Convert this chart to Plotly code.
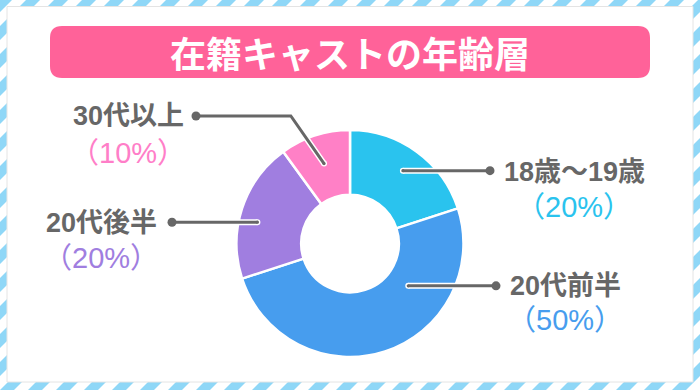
import math
import plotly.graph_objects as go

# ---- data ----
categories = ["18歳～19歳", "20代前半", "20代後半", "30代以上"]
values = [20, 50, 20, 10]
pct_labels = ["（20%）", "（50%）", "（20%）", "（10%）"]
title_text = "在籍キャストの年齢層"

# ---- style ----
W, H = 700, 390
slice_colors = ["#2ac3ee", "#479dee", "#a07ee0", "#ff80c6"]
pct_colors = ["#2ac3ee", "#479dee", "#a07ee0", "#ff7ec8"]
gray = "#676767"
stripe_color = "#8fd7f7"
title_bg = "#ff6299"
FONT = "Liberation Sans, Noto Sans CJK JP, sans-serif"

cx, cy, R = 350, 243.5, 113.5
hole = 0.43
anchor_frac = [0.5, 0.3, 0.43, 0.5]
anchor_r = [90, 72, 95, 84]
dot_x = [490, 496, 172, 196]
label_pos = [(574, 172, 207), (565, 286, 320), (101, 223, 258), (128, 116, 153)]


def px(x):
    return x / W


def py(y):
    return 1 - y / H


fig = go.Figure()

fig.add_trace(go.Pie(
    values=values, labels=categories, sort=False, direction="clockwise", rotation=0,
    hole=hole, textinfo="none", hoverinfo="label+percent",
    marker=dict(colors=slice_colors, line=dict(color="white", width=2.5)),
    domain=dict(x=[px(cx - R), px(cx + R)], y=[py(cy + R), py(cy - R)]),
    showlegend=False,
))

shapes = []
# striped frame
period, bw = 28, 14
segs = []
for k in range(-16, 28):
    x0 = k * period
    segs.append(f"M {px(x0)} {py(H)} L {px(x0 + bw)} {py(H)} L {px(x0 + bw + H)} {py(0)} L {px(x0 + H)} {py(0)} Z")
shapes.append(dict(type="path", xref="paper", yref="paper", path=" ".join(segs),
                   fillcolor=stripe_color, line=dict(width=0), layer="below"))
shapes.append(dict(type="rect", xref="paper", yref="paper", x0=px(7), x1=px(693), y0=py(382), y1=py(6.5),
                   fillcolor="white", line=dict(color="#e4e4e4", width=1), layer="below"))

# title pill
x0, x1, y0, y1, r = 50, 650, 26, 78, 12
p = (f"M {px(x0 + r)} {py(y0)} L {px(x1 - r)} {py(y0)} Q {px(x1)} {py(y0)} {px(x1)} {py(y0 + r)} "
     f"L {px(x1)} {py(y1 - r)} Q {px(x1)} {py(y1)} {px(x1 - r)} {py(y1)} "
     f"L {px(x0 + r)} {py(y1)} Q {px(x0)} {py(y1)} {px(x0)} {py(y1 - r)} "
     f"L {px(x0)} {py(y0 + r)} Q {px(x0)} {py(y0)} {px(x0 + r)} {py(y0)} Z")
shapes.append(dict(type="path", xref="paper", yref="paper", path=p, fillcolor=title_bg,
                   line=dict(width=0), layer="below"))

# leader lines
total = sum(values)
start = 0
annotations = []
for i, v in enumerate(values):
    ang = 2 * math.pi * (start + anchor_frac[i] * v) / total
    start += v
    ax = cx + anchor_r[i] * math.sin(ang)
    ay = cy - anchor_r[i] * math.cos(ang)
    if i == 3:
        ly = label_pos[i][1]
        elbow = (ax - (ay - ly) * 30 / 43, ly)
        pts = [(ax, ay), elbow, (dot_x[i], ly)]
    else:
        ly = ay
        pts = [(ax, ay), (dot_x[i], ly)]
    path = "M " + " L ".join(f"{px(a)} {py(b)}" for a, b in pts)
    shapes.append(dict(type="path", xref="paper", yref="paper", path=path,
                       line=dict(color="white", width=6), layer="above"))
    shapes.append(dict(type="circle", xref="paper", yref="paper", x0=px(ax - 3), x1=px(ax + 3),
                       y0=py(ay + 3), y1=py(ay - 3), fillcolor="white", line=dict(width=0), layer="above"))
    shapes.append(dict(type="path", xref="paper", yref="paper", path=path,
                       line=dict(color=gray, width=3), layer="above"))
    shapes.append(dict(type="circle", xref="paper", yref="paper", x0=px(ax - 1.6), x1=px(ax + 1.6),
                       y0=py(ay + 1.6), y1=py(ay - 1.6), fillcolor=gray, line=dict(width=0), layer="above"))
    dx = dot_x[i]
    shapes.append(dict(type="circle", xref="paper", yref="paper", x0=px(dx - 4.5), x1=px(dx + 4.5),
                       y0=py(ly + 4.5), y1=py(ly - 4.5), fillcolor=gray, line=dict(width=0), layer="above"))

    lx, l1, l2 = label_pos[i]
    annotations.append(dict(text=categories[i], x=px(lx), y=py(l1), xref="paper", yref="paper",
                            xanchor="center", yanchor="middle", showarrow=False,
                            font=dict(family=FONT, size=27, color=gray, weight=700)))
    annotations.append(dict(text=pct_labels[i], x=px(lx), y=py(l2), xref="paper", yref="paper",
                            xanchor="center", yanchor="middle", showarrow=False,
                            font=dict(family=FONT, size=29, color=pct_colors[i])))

annotations.append(dict(text=title_text, x=0.5, y=py(52), xref="paper", yref="paper",
                        xanchor="center", yanchor="middle", showarrow=False,
                        font=dict(family="Noto Sans CJK JP, sans-serif", size=36, color="white", weight=700)))

fig.update_layout(
    width=W, height=H, margin=dict(l=0, r=0, t=0, b=0),
    paper_bgcolor="white", plot_bgcolor="white",
    shapes=shapes, annotations=annotations, showlegend=False,
)

fig.write_html("out.html", config={"displayModeBar": False},
               post_script="document.body.style.margin='0';document.body.style.overflow='hidden';")
